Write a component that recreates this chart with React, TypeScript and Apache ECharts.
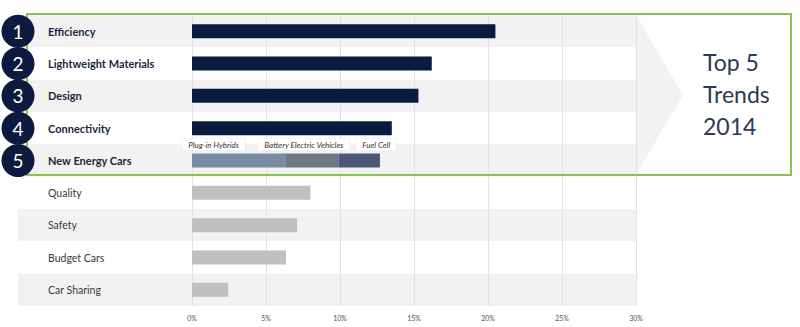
import React, { useEffect, useRef } from "react";
import * as echarts from "echarts";

const categories = [
  "Efficiency",
  "Lightweight Materials",
  "Design",
  "Connectivity",
  "New Energy Cars",
  "Quality",
  "Safety",
  "Budget Cars",
  "Car Sharing",
];
const topTrendValues = [20.5, 16.2, 15.3, 13.5, "-", "-", "-", "-", "-"];
const otherTrendValues = ["-", "-", "-", "-", "-", 8.0, 7.1, 6.35, 2.45];
const plugInHybrids = ["-", "-", "-", "-", 6.3, "-", "-", "-", "-"];
const batteryElectric = ["-", "-", "-", "-", 3.6, "-", "-", "-", "-"];
const fuelCell = ["-", "-", "-", "-", 2.8, "-", "-", "-", "-"];
const ranks = [1, 2, 3, 4, 5];
const xMin = 0;
const xMax = 30;
const xInterval = 5;
const headline = ["Top 5", "Trends", "2014"];

const NAVY = "#0c1a3f";
const FONT = "Lato, 'Open Sans', sans-serif";

export default function App() {
  const ref = useRef<HTMLDivElement>(null);
  useEffect(() => {
    if (!ref.current) return;
    const chart = echarts.init(ref.current, undefined, { renderer: "svg" });
    const calloutLabel = (text: string, dx: number) => ({
      show: true,
      position: "top",
      distance: 3,
      offset: [dx, 0],
      formatter: text,
      fontSize: 8,
      fontStyle: "italic",
      fontFamily: FONT,
      color: "#333",
      backgroundColor: "#ffffff",
      borderColor: "#e4e4e4",
      borderWidth: 0.5,
      padding: [2, 6, 2, 6],
    });
    chart.setOption({
      animation: false,
      textStyle: { fontFamily: FONT },
      grid: [
        { left: 18, right: 164, top: 15, bottom: 21 },
        { left: 192, right: 164, top: 15, bottom: 21 },
      ],
      xAxis: [
        { gridIndex: 0, type: "value", min: 0, max: 1, show: false },
        {
          gridIndex: 1,
          type: "value",
          min: xMin,
          max: xMax,
          interval: xInterval,
          z: 2,
          axisLine: { show: false },
          axisTick: { show: false },
          axisLabel: {
            formatter: "{value}%",
            fontSize: 7,
            color: "#555",
            margin: 8,
            fontFamily: FONT,
          },
          splitLine: { show: true, lineStyle: { color: "#e2e2e2", width: 1 } },
        },
      ],
      yAxis: [
        {
          gridIndex: 0,
          type: "category",
          inverse: true,
          data: categories,
          z: 0,
          axisLine: { show: false },
          axisTick: { show: false },
          splitLine: { show: false },
          splitArea: {
            show: true,
            areaStyle: { color: ["#f2f2f2", "#ffffff"] },
          },
          axisLabel: {
            inside: true,
            margin: 30,
            fontFamily: FONT,
            formatter: (v: string) => {
              const i = categories.indexOf(v);
              return i < ranks.length ? `{top|${v}}` : `{rest|${v}}`;
            },
            rich: {
              top: { fontSize: 11, fontWeight: "bold", color: "#1b2740", fontFamily: FONT },
              rest: { fontSize: 10.5, color: "#3a3a3a", fontFamily: FONT },
            },
          },
        },
        {
          gridIndex: 1,
          type: "category",
          inverse: true,
          data: categories,
          show: false,
        },
      ],
      graphic: [
        {
          type: "polygon",
          z: -1,
          shape: { points: [[636, 15], [683, 95], [636, 175]] },
          style: { fill: "#f2f2f2" },
        },
        {
          type: "rect",
          z: 5,
          shape: { x: 27, y: 14, width: 764, height: 161 },
          style: { fill: "none", stroke: "#8cc152", lineWidth: 2 },
        },
        {
          type: "text",
          z: 6,
          x: 703,
          y: 94,
          style: {
            text: headline.join("\n"),
            fontSize: 23,
            lineHeight: 32,
            fontFamily: FONT,
            fill: "#2b3a55",
            verticalAlign: "middle",
            align: "left",
          },
        },
      ],
      series: [
        {
          type: "scatter",
          xAxisIndex: 0,
          yAxisIndex: 0,
          z: 10,
          clip: false,
          symbol: "circle",
          symbolSize: 33,
          itemStyle: { color: NAVY, opacity: 1 },
          label: {
            show: true,
            position: "inside",
            formatter: (p: any) => String(p.value[2]),
            fontSize: 19,
            color: "#ffffff",
            fontFamily: FONT,
          },
          data: ranks.map((r, i) => [0, i, r]),
        },
        {
          name: "Top trends",
          type: "bar",
          xAxisIndex: 1,
          yAxisIndex: 1,
          stack: "all",
          barWidth: 14,
          itemStyle: { color: NAVY },
          data: topTrendValues,
        },
        {
          name: "Other trends",
          type: "bar",
          xAxisIndex: 1,
          yAxisIndex: 1,
          stack: "all",
          barWidth: 14,
          itemStyle: { color: "#c0c0c0" },
          data: otherTrendValues,
        },
        {
          name: "Plug-in Hybrids",
          type: "bar",
          xAxisIndex: 1,
          yAxisIndex: 1,
          stack: "all",
          barWidth: 14,
          itemStyle: { color: "#7b8aa3" },
          label: calloutLabel("Plug-in Hybrids", -25),
          data: plugInHybrids,
        },
        {
          name: "Battery Electric Vehicles",
          type: "bar",
          xAxisIndex: 1,
          yAxisIndex: 1,
          stack: "all",
          barWidth: 14,
          itemStyle: { color: "#6e7885" },
          label: calloutLabel("Battery Electric Vehicles", -8),
          data: batteryElectric,
        },
        {
          name: "Fuel Cell",
          type: "bar",
          xAxisIndex: 1,
          yAxisIndex: 1,
          stack: "all",
          barWidth: 14,
          itemStyle: { color: "#4b5877" },
          label: calloutLabel("Fuel Cell", 17),
          data: fuelCell,
        },
      ],
    });
    return () => chart.dispose();
  }, []);
  return <div ref={ref} style={{ width: 800, height: 327, position: "absolute", left: 0, top: 0 }} />;
}
